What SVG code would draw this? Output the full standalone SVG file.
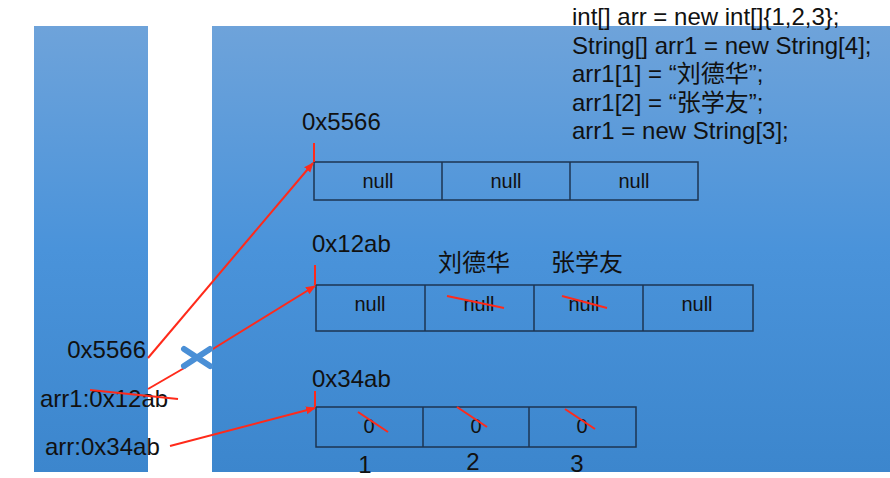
<svg xmlns="http://www.w3.org/2000/svg" width="890" height="478" viewBox="0 0 890 478">
<defs>
<linearGradient id="bg" x1="0" y1="0" x2="0" y2="1">
<stop offset="0" stop-color="#6ea3da"/>
<stop offset="0.5" stop-color="#4a93da"/>
<stop offset="1" stop-color="#3c86cd"/>
</linearGradient>
<marker id="ah" viewBox="0 0 10 10" refX="9" refY="5" markerWidth="5" markerHeight="5" orient="auto" markerUnits="strokeWidth">
<path d="M0,1 L10,5 L0,9 z" fill="#ff2a1a"/>
</marker>
<style>
.t{font-family:"Liberation Sans",Arial,"Noto Sans CJK SC",sans-serif;fill:#111;}
.lbl{font-size:24px;}
.code{font-size:24px;}
.cell{font-size:20px;text-anchor:middle;}
.cn{font-size:24px;}
.box{fill:none;stroke:#1c3552;stroke-width:1.5;}
.red{stroke:#ff2a1a;stroke-width:2;fill:none;}
</style>
</defs>
<rect width="890" height="478" fill="#ffffff"/>
<g id="stack">
<rect x="34" y="26" width="114" height="446" fill="url(#bg)"/>
<text class="t lbl" x="146" y="358" text-anchor="end">0x5566</text>
<text class="t lbl" x="40" y="407">arr1:0x12ab</text>
<text class="t lbl" x="45" y="455">arr:0x34ab</text>
</g>
<g id="heap">
<rect x="212" y="26" width="678" height="446" fill="url(#bg)"/>
</g>
<g id="code">
<text class="t code" x="572" y="25">int[] arr = new int[]{1,2,3};</text>
<text class="t code" x="572" y="54">String[] arr1 = new String[4];</text>
<text class="t code" x="572" y="82">arr1[1] = “刘德华”;</text>
<text class="t code" x="572" y="111">arr1[2] = “张学友”;</text>
<text class="t code" x="572" y="139">arr1 = new String[3];</text>
</g>
<g id="array5566">
<text class="t lbl" x="302" y="130">0x5566</text>
<rect class="box" x="314" y="162" width="384" height="38"/>
<line class="box" x1="442" y1="162" x2="442" y2="200"/>
<line class="box" x1="570" y1="162" x2="570" y2="200"/>
<text class="t cell" x="378" y="188">null</text>
<text class="t cell" x="506" y="188">null</text>
<text class="t cell" x="634" y="188">null</text>
</g>
<g id="array12ab">
<text class="t lbl" x="312" y="252">0x12ab</text>
<text class="t cn" x="438" y="271">刘德华</text>
<text class="t cn" x="551" y="271">张学友</text>
<rect class="box" x="316" y="285" width="437" height="46"/>
<line class="box" x1="425" y1="285" x2="425" y2="331"/>
<line class="box" x1="534" y1="285" x2="534" y2="331"/>
<line class="box" x1="643" y1="285" x2="643" y2="331"/>
<text class="t cell" x="370" y="311">null</text>
<text class="t cell" x="479" y="311">null</text>
<text class="t cell" x="584" y="311">null</text>
<text class="t cell" x="697" y="311">null</text>
</g>
<g id="array34ab">
<text class="t lbl" x="312" y="387">0x34ab</text>
<rect class="box" x="316" y="407" width="320" height="40"/>
<line class="box" x1="423" y1="407" x2="423" y2="447"/>
<line class="box" x1="529" y1="407" x2="529" y2="447"/>
<text class="t cell" x="369" y="433">0</text>
<text class="t cell" x="476" y="433">0</text>
<text class="t cell" x="582" y="433">0</text>
<text class="t lbl" x="365" y="473" text-anchor="middle">1</text>
<text class="t lbl" x="473" y="470" text-anchor="middle">2</text>
<text class="t lbl" x="577" y="472" text-anchor="middle">3</text>
</g>
<g id="connectors">
<line class="red" x1="314" y1="143" x2="314" y2="162"/>
<line class="red" x1="315" y1="265" x2="315" y2="285"/>
<line class="red" x1="315" y1="391" x2="315" y2="407"/>
<line class="red" x1="148" y1="358" x2="313" y2="163" marker-end="url(#ah)"/>
<line class="red" x1="148" y1="389" x2="186" y2="367"/>
<line class="red" x1="208" y1="352" x2="315" y2="286" marker-end="url(#ah)"/>
<line class="red" x1="170" y1="446" x2="315" y2="408" marker-end="url(#ah)"/>
<line class="red" x1="90" y1="390" x2="178" y2="399"/>
<line class="red" x1="447" y1="296" x2="504" y2="308"/>
<line class="red" x1="562" y1="296" x2="607" y2="308"/>
<line class="red" x1="358" y1="412" x2="388" y2="432"/>
<line class="red" x1="457" y1="407" x2="487" y2="427"/>
<line class="red" x1="565" y1="409" x2="595" y2="429"/>
<g id="cross" stroke="#4a8fd6" stroke-width="6" stroke-linecap="round">
<line x1="184" y1="349" x2="210" y2="366"/>
<line x1="184" y1="366" x2="210" y2="349"/>
</g>
</g>
</svg>
